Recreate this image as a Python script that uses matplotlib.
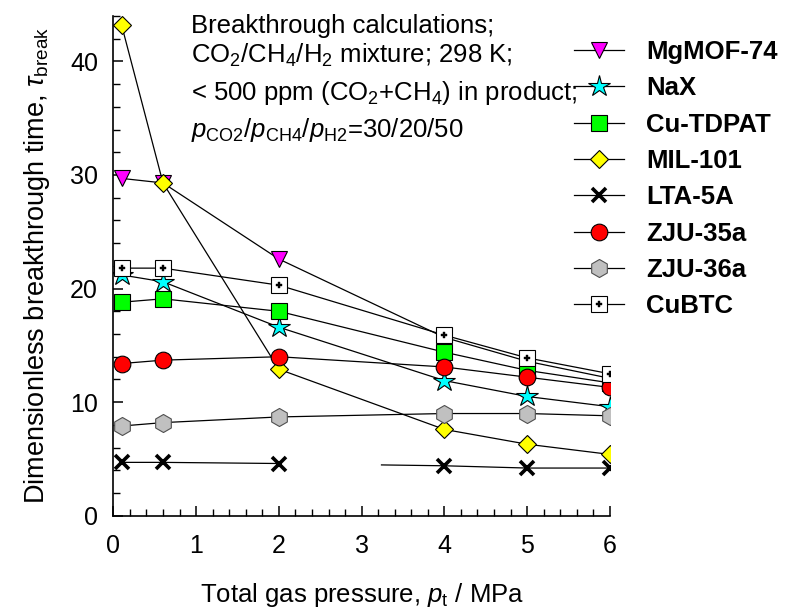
import numpy as np
import matplotlib
matplotlib.use("Agg")
import matplotlib.pyplot as plt

plt.rcParams["font.family"] = ["Liberation Sans", "DejaVu Sans"]
plt.rcParams["mathtext.fontset"] = "custom"
plt.rcParams["mathtext.rm"] = "Liberation Sans"
plt.rcParams["mathtext.it"] = "Liberation Sans:italic"
plt.rcParams["mathtext.bf"] = "Liberation Sans:bold"

# total gas pressure, MPa
PRESSURE = [0.1, 0.6, 2, 4, 5, 6]

# dimensionless breakthrough times
MGMOF74 = [29.7, 29.3, 22.6, 15.7, 13.6, 12.1]
NAX = [21.2, 20.6, 16.6, 11.9, 10.5, 9.6]
CU_TDPAT = [18.8, 19.1, 18.0, 14.4, 12.8, 11.7]
MIL101 = [43.2, 29.3, 12.9, 7.6, 6.3, 5.4]
LTA5A = [4.7, 4.7, 4.6, 4.4, 4.2, 4.2]
ZJU35A = [13.4, 13.7, 14.0, 13.1, 12.2, 11.3]
ZJU36A = [7.9, 8.2, 8.7, 9.0, 9.0, 8.8]
CUBTC = [21.8, 21.8, 20.3, 15.9, 13.9, 12.5]

LABELS = ["MgMOF-74", "NaX", "Cu-TDPAT", "MIL-101", "LTA-5A",
          "ZJU-35a", "ZJU-36a", "CuBTC"]

FS = 18.5
LW = 0.9

fig = plt.figure(figsize=(7.87, 6.14), dpi=100)
ax = fig.add_axes([0.144, 0.160, 0.631, 0.814])

styles = {
    "MgMOF-74": dict(marker="v", ms=12, mfc="#ff00ff"),
    "NaX": dict(marker="*", ms=16, mfc="#00ffff"),
    "Cu-TDPAT": dict(marker="s", ms=11, mfc="#00ff00"),
    "MIL-101": dict(marker="D", ms=9.5, mfc="#ffff00"),
    "LTA-5A": dict(marker="x", ms=9.5, mec="black", mew=2.6),
    "ZJU-35a": dict(marker="o", ms=12, mfc="#ff0000"),
    "ZJU-36a": dict(marker="h", ms=13, mfc="#c0c0c0", mec="#505050"),
    "CuBTC": dict(marker="s", ms=11, mfc="white"),
}
series = [MGMOF74, NAX, CU_TDPAT, MIL101, LTA5A, ZJU35A, ZJU36A, CUBTC]

x = np.array(PRESSURE, dtype=float)
handles = []
for name, y in zip(LABELS, series):
    y = np.array(y, dtype=float)
    st = dict(mec="black", mew=0.8)
    st.update(styles[name])
    if name == "LTA-5A":
        # the 2 -> 4 MPa segment only shows its right part
        x_gap = x[2] + 0.62 * (x[3] - x[2])
        ax.plot(x[:3], y[:3], color="black", lw=LW, zorder=2)
        ax.plot([x_gap, *x[3:]], [np.interp(x_gap, x, y), *y[3:]],
                color="black", lw=LW, zorder=2)
        ln, = ax.plot([], [], color="black", lw=LW)
    else:
        ln, = ax.plot(x, y, color="black", lw=LW, zorder=2)
    mk, = ax.plot(x, y, ls="none", zorder=3, **st)
    if name == "CuBTC":
        cross, = ax.plot(x, y, ls="none", marker="P", ms=5, mfc="black",
                         mec="black", mew=0.3, zorder=4)
        handles.append((ln, mk, cross))
    else:
        handles.append((ln, mk))

ax.set_xlim(0, 6)
ax.set_ylim(0, 44)
ax.set_xticks(range(0, 7))
ax.set_xticks(np.arange(0, 6.01, 0.2), minor=True)
ax.set_yticks(range(0, 41, 10))
ax.set_yticks(range(0, 45, 2), minor=True)
for s in ("top", "right"):
    ax.spines[s].set_visible(False)
for s in ("left", "bottom"):
    ax.spines[s].set_linewidth(1.2)
ax.tick_params(which="major", direction="in", length=7, width=1.1,
               labelsize=18)
ax.tick_params(which="minor", direction="in", length=5, width=1.0)
ax.tick_params(axis="x", which="major", pad=13)
ax.tick_params(axis="y", which="major", pad=11)
ax.set_xlabel("Total gas pressure, $\\it{p}_{\\rm t}$ / MPa",
              fontsize=FS, labelpad=17)
ax.set_ylabel("Dimensionless breakthrough time, $\\tau_{\\rm break}$",
              fontsize=19.5, labelpad=13)

# conditions of the simulation
tx = 191 / 787
lines = [
    (33, "Breakthrough calculations;"),
    (63, "CO$_2$/CH$_4$/H$_2$ mixture; 298 K;"),
    (100, "< 500 ppm (CO$_2$+CH$_4$) in product;"),
    (137, "$\\it{p}_{\\rm CO2}$/$\\it{p}_{\\rm CH4}$/$\\it{p}_{\\rm H2}$=30/20/50"),
]
for yb, s in lines:
    fig.text(tx, 1 - yb / 614, s, fontsize=FS, va="baseline", ha="left")

ax.legend(handles, LABELS, loc="upper left",
          bbox_to_anchor=(574 / 787, 1 - 40 / 614),
          bbox_transform=fig.transFigure, frameon=False, numpoints=1,
          prop=dict(size=FS, weight="bold"), handlelength=1.95,
          handletextpad=0.85, labelspacing=0.48, borderpad=0,
          borderaxespad=0)

fig.savefig("out.png", dpi=100)
